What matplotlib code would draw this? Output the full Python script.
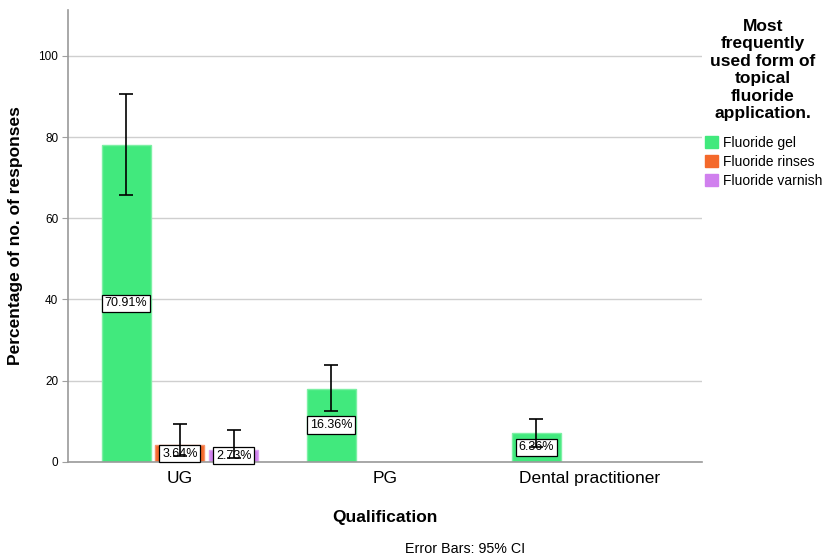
import numpy as np
import matplotlib
matplotlib.use("Agg")
import matplotlib.pyplot as plt
from matplotlib.patches import Patch

plt.rcParams['font.family'] = ['Liberation Sans', 'DejaVu Sans']

qualifications = ['UG', 'PG', 'Dental practitioner']
forms = ['Fluoride gel', 'Fluoride rinses', 'Fluoride varnish']
total_responses = 110

# response counts per form, one value per qualification
gel_counts = [78, 18, 7]
rinse_counts = [4, 0, 0]
varnish_counts = [3, 0, 0]

# 95% CI bounds
gel_ci_low = [65.8, 12.4, 3.6]
gel_ci_high = [90.6, 23.8, 10.4]
rinse_ci_low = [1.5, 0, 0]
rinse_ci_high = [9.3, 0, 0]
varnish_ci_low = [0.8, 0, 0]
varnish_ci_high = [7.8, 0, 0]

colors = ['#41E97D', '#F4692B', '#D080EE']
edges = ['#7CF0A4', '#F8936A', '#DEA5F3']

series = [
    (gel_counts, gel_ci_low, gel_ci_high),
    (rinse_counts, rinse_ci_low, rinse_ci_high),
    (varnish_counts, varnish_ci_low, varnish_ci_high),
]

fig = plt.figure(figsize=(8.23, 5.6), dpi=100)
ax = fig.add_axes([68/823, 1 - 461.7/560, 634/823, 451.7/560])

x = np.arange(len(qualifications))
width = 0.239
offsets = [-0.263, 0.0, 0.263]

for k, (counts, lo, hi) in enumerate(series):
    counts = np.array(counts, dtype=float)
    lo = np.array(lo)
    hi = np.array(hi)
    keep = counts > 0
    xs = x[keep] + offsets[k]
    ax.bar(xs, counts[keep], width=width, color=colors[k], edgecolor=edges[k],
           linewidth=1, zorder=2)
    ax.errorbar(xs, counts[keep],
                yerr=[counts[keep] - lo[keep], hi[keep] - counts[keep]],
                fmt='none', ecolor='black', elinewidth=1.2, capsize=4.7,
                capthick=1.2, zorder=5)
    for xi, c in zip(xs, counts[keep]):
        pct = c / total_responses * 100
        ax.text(xi, c / 2, f'{pct:.2f}%', ha='center', va='center', fontsize=9,
                zorder=4,
                bbox=dict(boxstyle='square,pad=0.22', facecolor='white',
                          edgecolor='black', linewidth=0.9))

ax.set_xlim(-0.546, 2.546)
ax.set_ylim(0, 111.3)
ax.set_yticks([0, 20, 40, 60, 80, 100])
ax.set_xticks(x)
ax.set_xticklabels(qualifications, fontsize=12.5)
ax.tick_params(axis='y', labelsize=8.5, length=4, color='#A0A0A0', pad=3)
ax.tick_params(axis='x', length=0, pad=7)
ax.yaxis.grid(True, color='#CFCFCF', linewidth=1, zorder=0)
ax.set_axisbelow(True)
for s in ['top', 'right']:
    ax.spines[s].set_visible(False)
for s in ['left', 'bottom']:
    ax.spines[s].set_color('#9A9A9A')
    ax.spines[s].set_linewidth(1.2)

ax.set_ylabel('Percentage of no. of responses', fontsize=12.5, fontweight='bold',
              labelpad=11)
ax.set_xlabel('Qualification', fontsize=12.5, fontweight='bold', labelpad=17)

fig.text(465/823, 1 - 549/560, 'Error Bars: 95% CI', ha='center', va='center',
         fontsize=10.3)

fig.text(763/823, 1 - 19/560,
         'Most\nfrequently\nused form of\ntopical\nfluoride\napplication.',
         ha='center', va='top', fontsize=12.5, fontweight='bold', linespacing=1.2)

handles = [Patch(facecolor=c, edgecolor=c) for c in colors]
fig.legend(handles, forms, loc='upper left', bbox_to_anchor=(705/823, 1 - 136/560),
           frameon=False, fontsize=10, handlelength=0.95, handleheight=0.95,
           handletextpad=0.35, labelspacing=0.35, borderaxespad=0, borderpad=0)

fig.savefig('out.png', dpi=100)
